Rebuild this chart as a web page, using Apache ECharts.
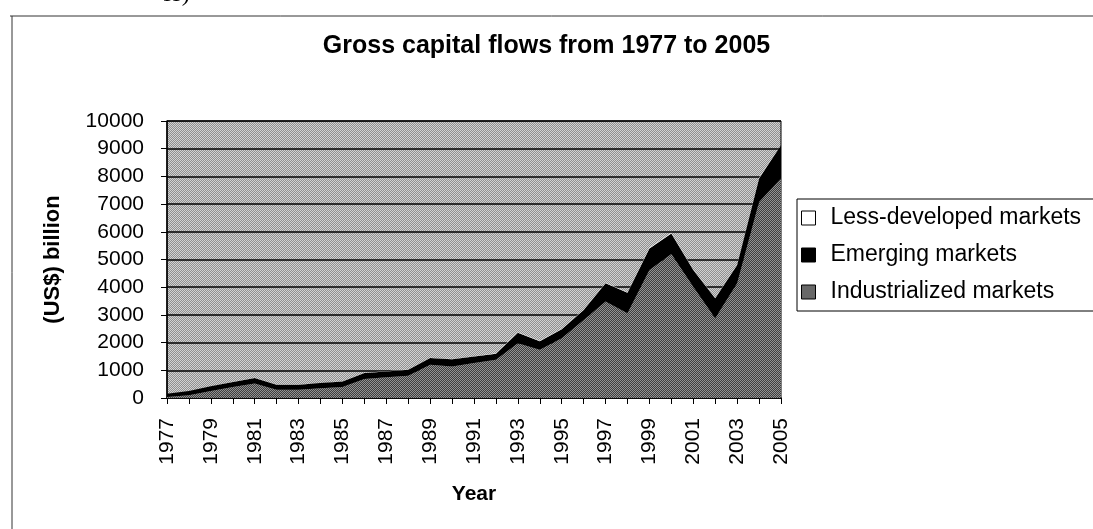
<!DOCTYPE html>
<html>
<head>
<meta charset="utf-8">
<script src="https://cdn.jsdelivr.net/npm/echarts@6/dist/echarts.min.js"></script>
<style>
  html, body { margin: 0; padding: 0; background: #fff; }
  #chart { width: 1093px; height: 529px; }
</style>
</head>
<body>
<div id="chart"></div>
<script>
// Gross capital flows, US$ billion, stacked by market group
const years = ['1977','1978','1979','1980','1981','1982','1983','1984','1985','1986',
               '1987','1988','1989','1990','1991','1992','1993','1994','1995','1996',
               '1997','1998','1999','2000','2001','2002','2003','2004','2005'];
const industrialized = [40, 100, 250, 400, 520, 300, 300, 350, 400, 690,
                        750, 800, 1200, 1140, 1260, 1380, 1980, 1740, 2160, 2820,
                        3480, 3060, 4620, 5200, 4020, 2880, 4140, 7080, 7920];
const emerging = [110, 150, 170, 180, 200, 180, 180, 190, 200, 210,
                  210, 220, 240, 260, 240, 220, 380, 310, 320, 360,
                  660, 740, 780, 740, 600, 720, 660, 840, 1200];
const lessDeveloped = [5, 5, 6, 6, 7, 6, 6, 6, 7, 8,
                       8, 9, 10, 10, 11, 12, 15, 14, 16, 18,
                       22, 20, 24, 26, 22, 20, 24, 30, 34];
const seriesNames = ['Industrialized markets', 'Emerging markets', 'Less-developed markets'];
const legendOrder = ['Less-developed markets', 'Emerging markets', 'Industrialized markets'];

// small two-tone checker tiles that give the halftone look of the fills
function checker(a, b) {
  const cv = document.createElement('canvas');
  cv.width = 4; cv.height = 4;
  const ctx = cv.getContext('2d');
  for (let y = 0; y < 4; y++) {
    for (let x = 0; x < 4; x++) {
      ctx.fillStyle = (x + y) % 2 ? a : b;
      ctx.fillRect(x, y, 1, 1);
    }
  }
  return { image: cv, repeat: 'repeat' };
}
const plotFill = checker('#8f8f8f', '#d2d2d2');
const industrialFill = checker('#3e3e3e', '#929292');

const font = 'Liberation Sans, Arial, Helvetica, sans-serif';
const chart = echarts.init(document.getElementById('chart'), null, { renderer: 'canvas' });

chart.setOption({
  backgroundColor: '#ffffff',
  animation: false,
  title: {
    text: 'Gross capital flows from 1977 to 2005',
    left: 'center',
    top: 29,
    textStyle: { fontFamily: font, fontSize: 25, fontWeight: 'bold', color: '#000' }
  },
  legend: {
    data: legendOrder,
    orient: 'vertical',
    left: 797,
    top: 199,
    padding: [7, 40, 7, 4],
    itemGap: 13,
    itemWidth: 14,
    itemHeight: 14,
    icon: 'rect',
    borderColor: '#000',
    borderWidth: 1,
    borderRadius: 0,
    itemStyle: { borderColor: '#000', borderWidth: 1 },
    textStyle: { fontFamily: font, fontSize: 23, color: '#000', lineHeight: 24, padding: [0, 0, 0, 10] }
  },
  grid: {
    left: 167, right: 312, top: 121, bottom: 131,
    show: true,
    backgroundColor: plotFill,
    borderColor: '#000',
    borderWidth: 1
  },
  xAxis: {
    type: 'category',
    data: years,
    boundaryGap: false,
    name: 'Year',
    nameLocation: 'middle',
    nameGap: 86,
    nameTextStyle: { fontFamily: font, fontSize: 21, fontWeight: 'bold', color: '#000' },
    axisLine: { lineStyle: { color: '#000', width: 1.5 } },
    axisTick: { show: true, interval: 0, length: 6, lineStyle: { color: '#000' } },
    axisLabel: { interval: 1, rotate: 90, margin: 20, fontFamily: font, fontSize: 21, color: '#000' },
    splitLine: { show: false }
  },
  yAxis: {
    type: 'value',
    min: 0,
    max: 10000,
    interval: 1000,
    name: '(US$) billion',
    nameLocation: 'middle',
    nameGap: 103,
    nameRotate: 90,
    nameTextStyle: { fontFamily: font, fontSize: 22, fontWeight: 'bold', color: '#000' },
    axisLine: { show: true, lineStyle: { color: '#000', width: 1.5 } },
    axisTick: { show: true, length: 6, lineStyle: { color: '#000' } },
    axisLabel: { margin: 23, fontFamily: font, fontSize: 21, color: '#000',
                 formatter: function (v) { return String(v); } },
    splitLine: { show: true, lineStyle: { color: '#000', width: 1.5 } }
  },
  graphic: [
    { type: 'line', silent: true, shape: { x1: 10, y1: 16, x2: 1093, y2: 16 }, style: { stroke: '#333', lineWidth: 1 } },
    { type: 'line', silent: true, shape: { x1: 12, y1: 16, x2: 12, y2: 529 }, style: { stroke: '#333', lineWidth: 1 } },
    { type: 'text', silent: true, left: 163, top: -17,
      style: { text: 'ss)', font: '24px "Liberation Serif", "Times New Roman", serif', fill: '#000' } }
  ],
  series: [
    {
      name: seriesNames[0], type: 'line', stack: 'flows', data: industrialized,
      symbol: 'none', showSymbol: false,
      lineStyle: { width: 0 },
      itemStyle: { color: industrialFill, borderColor: '#000', borderWidth: 1 },
      areaStyle: { color: industrialFill, opacity: 1 }
    },
    {
      name: seriesNames[1], type: 'line', stack: 'flows', data: emerging,
      symbol: 'none', showSymbol: false,
      lineStyle: { width: 0 },
      itemStyle: { color: '#000', borderColor: '#000', borderWidth: 1 },
      areaStyle: { color: '#000', opacity: 1 }
    },
    {
      name: seriesNames[2], type: 'line', stack: 'flows', data: lessDeveloped,
      symbol: 'none', showSymbol: false,
      lineStyle: { width: 0 },
      itemStyle: { color: '#fff', borderColor: '#000', borderWidth: 1 },
      areaStyle: { color: '#fff', opacity: 1 }
    }
  ]
});
</script>
</body>
</html>
